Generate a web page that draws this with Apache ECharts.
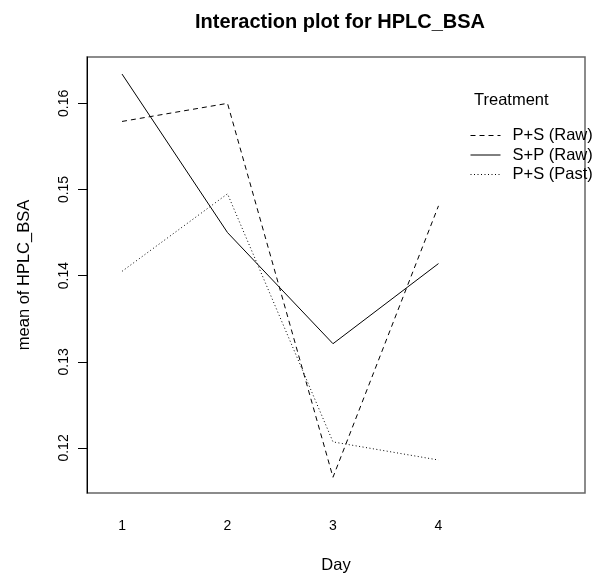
<!DOCTYPE html>
<html>
<head>
<meta charset="utf-8">
<script src="https://cdn.jsdelivr.net/npm/echarts@6/dist/echarts.min.js"></script>
<style>
html, body { margin: 0; padding: 0; background: #fff; }
#main { width: 614px; height: 583px; }
</style>
</head>
<body>
<div id="main"></div>
<script>
// values
var days = [1, 2, 3, 4];
var yTicks = [0.12, 0.13, 0.14, 0.15, 0.16];
var psRaw = [0.1579, 0.1600, 0.1166, 0.1481];
var spRaw = [0.1634, 0.1450, 0.1321, 0.1414];
var psPast = [0.1405, 0.1495, 0.1207, 0.1186];

function pairs(vals) {
	var out = [];
	for (var i = 0; i < days.length; i++) {
		out.push([days[i], vals[i]]);
	}
	return out;
}

var font = 'Liberation Sans, Arial, Helvetica, sans-serif';
var myChart = echarts.init(document.getElementById('main'));
var option = {
	animation: false,
	title: [{
		text: 'Interaction plot for HPLC_BSA',
		left: 190,
		top: 7,
		textStyle: { fontFamily: font, fontSize: 20, fontWeight: 'bold', color: '#000' }
	}, {
		text: 'Treatment',
		left: 469,
		top: 87,
		textStyle: { fontFamily: font, fontSize: 16.5, fontWeight: 'normal', color: '#000' }
	}],
	legend: {
		orient: 'vertical',
		left: 470,
		top: 127,
		padding: 0,
		itemWidth: 30,
		itemHeight: 14,
		itemGap: 2.5,
		itemStyle: { opacity: 0 },
		lineStyle: { width: 1 },
		textStyle: { fontFamily: font, fontSize: 16.5, lineHeight: 14, color: '#000', padding: [0, 0, 0, 7] },
		data: ['P+S (Raw)', 'S+P (Raw)', 'P+S (Past)']
	},
	grid: {
		left: 87,
		right: 29,
		top: 57,
		bottom: 90,
		show: true,
		borderColor: '#666',
		borderWidth: 1.5
	},
	xAxis: {
		type: 'value',
		min: 0.668,
		max: 5.389,
		name: 'Day',
		nameLocation: 'middle',
		nameGap: 64,
		nameTextStyle: { fontFamily: font, fontSize: 16.5, color: '#000' },
		splitLine: { show: false },
		axisLine: { show: false },
		axisTick: { show: false },
		axisLabel: {
			customValues: days,
			margin: 26,
			fontFamily: font,
			fontSize: 14,
			color: '#000'
		}
	},
	yAxis: {
		type: 'value',
		min: 0.11477,
		max: 0.16538,
		name: 'mean of HPLC_BSA',
		nameLocation: 'middle',
		nameGap: 54,
		nameTextStyle: { fontFamily: font, fontSize: 16.5, color: '#000' },
		splitLine: { show: false },
		axisLine: { show: true, lineStyle: { color: '#000', width: 1 } },
		axisTick: { show: true, customValues: yTicks, length: 9, lineStyle: { color: '#000' } },
		axisLabel: {
			customValues: yTicks,
			rotate: 90,
			margin: 16,
			fontFamily: font,
			fontSize: 14,
			color: '#000',
			formatter: function(v) { return v.toFixed(2); }
		}
	},
	series: [{
		name: 'P+S (Raw)',
		type: 'line',
		symbol: 'none',
		lineStyle: { color: '#000', width: 1, type: [5, 4] },
		itemStyle: { color: '#000' },
		data: pairs(psRaw)
	}, {
		name: 'S+P (Raw)',
		type: 'line',
		symbol: 'none',
		lineStyle: { color: '#000', width: 1, type: 'solid' },
		itemStyle: { color: '#000' },
		data: pairs(spRaw)
	}, {
		name: 'P+S (Past)',
		type: 'line',
		symbol: 'none',
		lineStyle: { color: '#000', width: 1, type: [1, 2.5] },
		itemStyle: { color: '#000' },
		data: pairs(psPast)
	}]
};
myChart.setOption(option);
</script>
</body>
</html>
